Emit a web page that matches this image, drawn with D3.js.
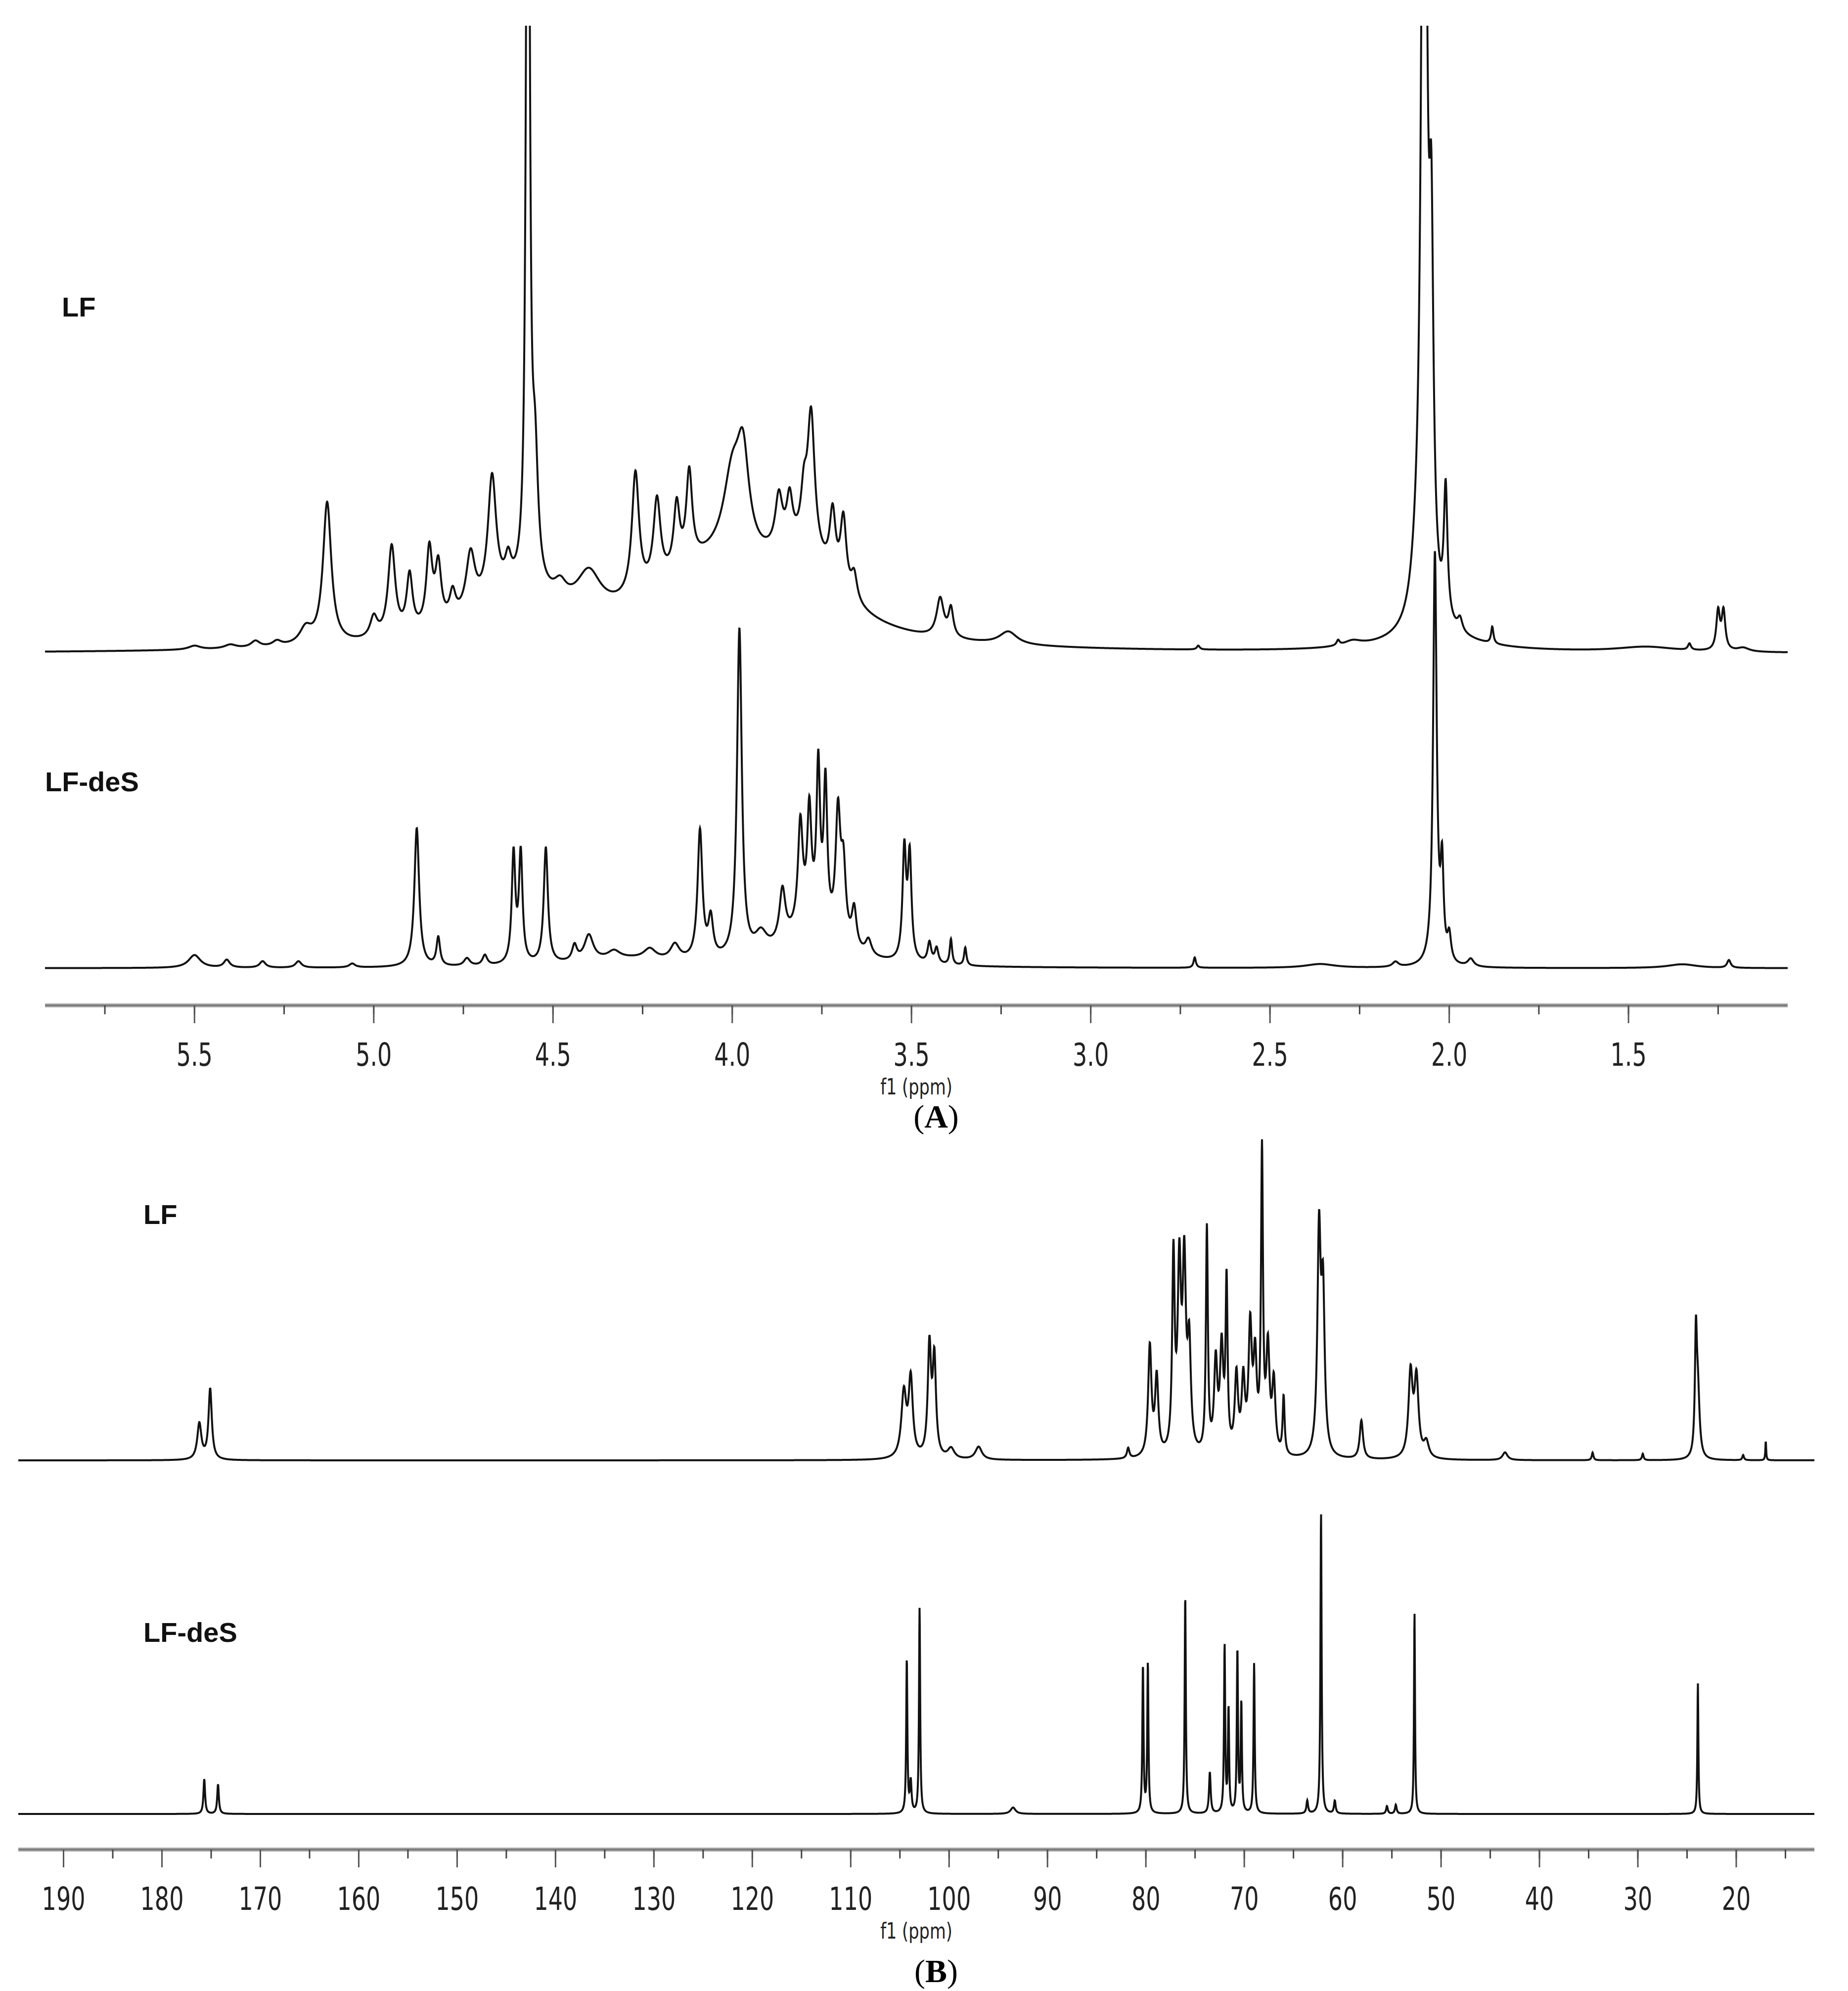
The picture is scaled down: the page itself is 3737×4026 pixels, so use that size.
<!DOCTYPE html>
<html lang="en">
<head>
<meta charset="utf-8">
<title>NMR spectra LF / LF-deS</title>
<style>
  body { margin: 0; background: #fff; }
  svg { display: block; }
</style>
<script src="https://d3js.org/d3.v7.min.js"></script>
</head>
<body>
<script>
// peaks: [ppm, height, half width (ppm)]
const hLF = [
  [5.50,3,0.02],[5.40,3,0.02],[5.33,5,0.015],[5.27,4,0.015],[5.19,12,0.02],
  [5.13,110,0.014],[5.00,16,0.012],[4.95,70,0.012],[4.90,44,0.01],
  [4.845,60,0.01],[4.82,45,0.01],[4.78,20,0.01],[4.73,45,0.015],[4.67,95,0.014],
  [4.625,20,0.01],[4.57,900,0.005],[4.55,90,0.01],[4.48,12,0.02],[4.40,30,0.04],
  [4.27,95,0.012],[4.21,65,0.012],[4.155,50,0.01],[4.12,70,0.01],
  [4.00,60,0.03],[3.97,70,0.02],[3.87,40,0.012],[3.84,35,0.01],[3.80,35,0.01],
  [3.78,105,0.012],[3.72,50,0.01],[3.69,55,0.01],[3.66,20,0.01],
  [3.42,30,0.012],[3.39,22,0.008],[3.23,10,0.03],[2.70,3,0.005],[2.31,4,0.005],
  [2.27,4,0.03],[2.09,30,0.02],[2.07,900,0.008],[2.05,250,0.007],[2.01,100,0.006],
  [1.97,10,0.008],[1.88,13,0.004],[1.45,4,0.1],[1.33,5,0.005],
  [1.25,30,0.006],[1.235,30,0.006],[1.18,3,0.02]
];
const hLFbroad = [[4.6,35,0.16],[4.05,60,0.22],[3.8,50,0.12],[2.05,10,0.15]];

const hDeS = [
  [5.50,10,0.02],[5.41,6,0.01],[5.31,5,0.01],[5.21,5,0.01],[5.06,3,0.01],
  [4.88,108,0.008],[4.82,22,0.006],[4.74,6,0.01],[4.69,8,0.008],
  [4.61,85,0.006],[4.59,85,0.006],[4.52,90,0.007],[4.44,12,0.008],[4.40,20,0.015],
  [4.33,6,0.02],[4.23,8,0.02],[4.16,12,0.015],[4.09,100,0.008],[4.06,30,0.008],
  [3.98,255,0.008],[3.92,15,0.02],[3.86,40,0.01],[3.81,80,0.008],[3.785,85,0.007],
  [3.76,120,0.006],[3.74,110,0.006],[3.705,95,0.008],[3.69,55,0.008],[3.66,30,0.008],
  [3.62,12,0.01],[3.52,85,0.006],[3.505,80,0.006],[3.45,16,0.006],[3.43,12,0.006],
  [3.39,20,0.004],[3.35,14,0.004],[2.71,8,0.004],[2.36,3,0.05],[2.15,4,0.01],
  [2.04,320,0.006],[2.02,70,0.005],[2.00,20,0.006],[1.94,6,0.01],[1.35,3,0.05],
  [1.22,6,0.006]
];
const hDeSbroad = [[3.78,30,0.09],[4.3,6,0.15]];

const cLF = [
  [176.2,28,0.25],[175.1,55,0.2],[104.6,50,0.3],[103.9,60,0.25],[102.0,85,0.2],
  [101.5,75,0.2],[99.8,8,0.4],[97.0,10,0.4],[81.8,8,0.15],[79.6,85,0.2],[78.9,60,0.2],
  [77.2,150,0.15],[76.6,140,0.2],[76.1,140,0.2],[75.6,80,0.2],[73.8,175,0.12],
  [72.9,70,0.2],[72.3,80,0.2],[71.8,130,0.12],[70.8,60,0.2],[70.1,55,0.2],
  [69.4,95,0.2],[68.9,70,0.2],[68.2,230,0.12],[67.6,80,0.2],[67.0,55,0.2],
  [66.0,45,0.12],[62.4,170,0.2],[62.0,120,0.2],[58.1,30,0.2],[53.1,65,0.25],
  [52.5,60,0.25],[51.5,12,0.3],[43.5,6,0.3],[34.6,6,0.1],[29.5,5,0.1],[24.1,88,0.12],
  [23.9,50,0.2],[19.3,4,0.1],[17.0,15,0.05]
];
const cDeS = [
  [175.7,27,0.1],[174.3,23,0.1],[104.3,120,0.07],[103.9,24,0.1],[103.0,160,0.07],
  [93.5,5,0.3],[80.3,115,0.07],[79.8,117,0.07],[76.0,170,0.07],[73.5,32,0.1],
  [72.0,130,0.07],[71.6,80,0.07],[70.7,127,0.07],[70.3,85,0.07],[69.0,117,0.07],
  [63.6,10,0.1],[62.2,235,0.07],[60.8,10,0.1],[55.5,6,0.1],[54.6,7,0.1],
  [52.7,157,0.06],[23.9,102,0.06]
];

const ticksA = d3.range(1.5, 5.51, 0.5);
const minorA = d3.range(1.25, 5.8, 0.25);
const ticksB = d3.range(20, 191, 10);
const minorB = d3.range(15, 195, 5);

const W = 3737, H = 4026;
const svg = d3.select("body").append("svg").attr("width", W).attr("height", H);
const font = "'DejaVu Sans Condensed','Liberation Sans',sans-serif";

function spectrum(peaks, px, x, y) {
  return px.map(p => {
    const v = x.invert(p);
    let s = 0;
    peaks.forEach(([c, h, w]) => { const t = (v - c) / w; s += h / (1 + t * t); });
    return [p, y(s)];
  });
}

function panel(o) {
  const x = d3.scaleLinear().domain(o.domain).range([o.x0, o.x1]);
  const px = d3.range(o.x0, o.x1 + 0.1, 0.5);
  const line = d3.line();
  const clipId = "clip" + o.id;
  svg.append("clipPath").attr("id", clipId).append("rect")
    .attr("x", o.x0).attr("y", o.clipTop).attr("width", o.x1 - o.x0).attr("height", o.axisY - o.clipTop);
  o.traces.forEach(t => {
    const y = d3.scaleLinear().domain([0, 1]).range([t.base, t.base - 2.6]);
    svg.append("path")
      .attr("d", line(spectrum(t.peaks, px, x, y)))
      .attr("fill", "none").attr("stroke", "#111").attr("stroke-width", o.sw)
      .attr("clip-path", `url(#${clipId})`);
    svg.append("text").attr("x", t.lx).attr("y", t.ly)
      .attr("font-family", "'Liberation Sans',Arial,sans-serif").attr("font-weight", "bold")
      .attr("font-size", 56).attr("fill", "#111").text(t.label);
  });
  // axis
  svg.append("line").attr("x1", o.x0).attr("x2", o.x1).attr("y1", o.axisY).attr("y2", o.axisY)
    .attr("stroke", "#aaa").attr("stroke-width", 8);
  svg.append("line").attr("x1", o.x0).attr("x2", o.x1).attr("y1", o.axisY).attr("y2", o.axisY)
    .attr("stroke", "#777").attr("stroke-width", 3);
  const g = svg.append("g");
  g.selectAll(".mi").data(o.minor.filter(d => x(d) >= o.x0 && x(d) <= o.x1)).join("line")
    .attr("x1", d => x(d)).attr("x2", d => x(d)).attr("y1", o.axisY).attr("y2", o.axisY + 18)
    .attr("stroke", "#444").attr("stroke-width", 3);
  g.selectAll(".ma").data(o.major).join("line")
    .attr("x1", d => x(d)).attr("x2", d => x(d)).attr("y1", o.axisY).attr("y2", o.axisY + 36)
    .attr("stroke", "#555").attr("stroke-width", 3);
  g.selectAll("text").data(o.major).join("text")
    .attr("transform", d => `translate(${x(d)},${o.axisY + 122}) scale(0.8,1)`)
    .attr("text-anchor", "middle")
    .attr("font-family", font).attr("font-size", 64).attr("fill", "#222")
    .text(o.fmt);
  svg.append("text")
    .attr("transform", `translate(${(o.x0 + o.x1) / 2},${o.axisY + 180}) scale(0.85,1)`)
    .attr("text-anchor", "middle")
    .attr("font-family", font).attr("font-size", 44).attr("fill", "#222").text("f1 (ppm)");
  const cap = svg.append("text").attr("x", (o.x0 + o.x1) / 2 + 40).attr("y", o.capY).attr("text-anchor", "middle")
    .attr("font-family", "'Liberation Serif','DejaVu Serif',serif").attr("font-size", 66).attr("fill", "#000");
  cap.append("tspan").text("(");
  cap.append("tspan").attr("font-weight", "bold").text(o.cap);
  cap.append("tspan").text(")");
}

panel({
  id: "A", domain: [5.917, 1.056], x0: 91, x1: 3615, axisY: 2033, clipTop: 52, sw: 4,
  major: ticksA, minor: minorA, fmt: d => d.toFixed(1), cap: "A", capY: 2280,
  traces: [
    { peaks: hLF.concat(hLFbroad), base: 1322, label: "LF", lx: 125, ly: 640 },
    { peaks: hDeS.concat(hDeSbroad), base: 1958, label: "LF-deS", lx: 91, ly: 1600 }
  ]
});

panel({
  id: "B", domain: [194.6, 12.06], x0: 37, x1: 3669, axisY: 3740, clipTop: 2300, sw: 4,
  major: ticksB, minor: minorB, fmt: d => d, cap: "B", capY: 4008,
  traces: [
    { peaks: cLF, base: 2953, label: "LF", lx: 290, ly: 2475 },
    { peaks: cDeS, base: 3668, label: "LF-deS", lx: 290, ly: 3320 }
  ]
});
</script>
</body>
</html>
